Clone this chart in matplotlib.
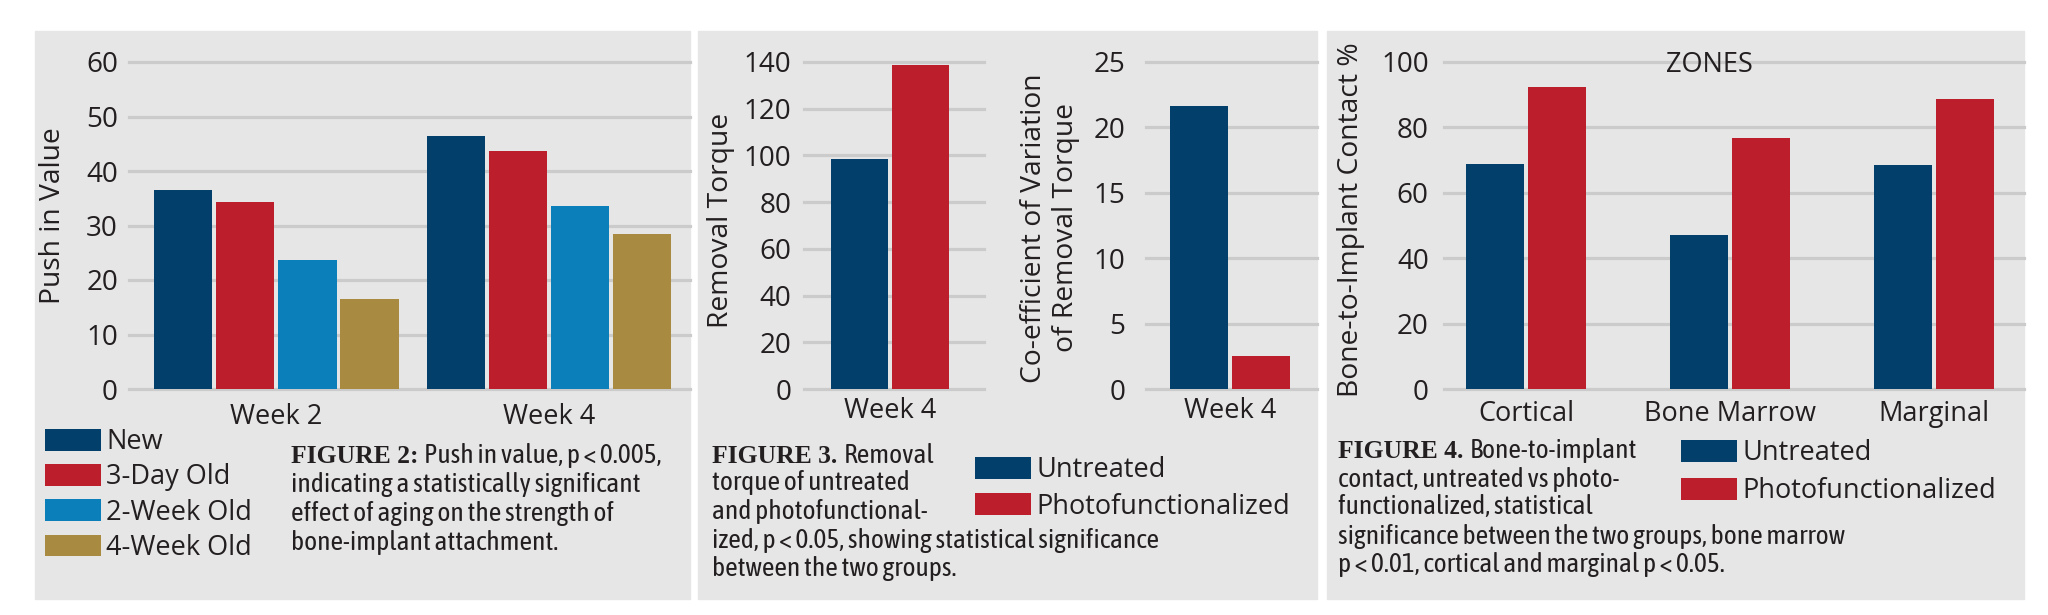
import matplotlib
matplotlib.use('Agg')
import matplotlib.pyplot as plt
from matplotlib import font_manager
from matplotlib.patches import Rectangle
import numpy as np

# ---- data ----
weeks = ['Week 2', 'Week 4']
age_groups = ['New', '3-Day Old', '2-Week Old', '4-Week Old']
push_new = [36.5, 46.4]
push_3day = [34.3, 43.7]
push_2week = [23.6, 33.5]
push_4week = [16.5, 28.4]

torque_week = ['Week 4']
torque_untreated = [98.5]
torque_photo = [138.8]
cov_untreated = [21.6]
cov_photo = [2.5]

zones = ['Cortical', 'Bone Marrow', 'Marginal']
bic_untreated = [68.8, 47.1, 68.4]
bic_photo = [92.3, 76.9, 88.8]

treat_labels = ['Untreated', 'Photofunctionalized']

# ---- style ----
NAVY = '#02406b'
RED = '#bd1e2c'
BLUE = '#0a7fba'
GOLD = '#a88a40'
BG = '#e6e6e6'
GRID = '#cbcbcb'
TXT = '#231f20'

names = {f.name for f in font_manager.fontManager.ttflist}


def pick(*fams):
    for f in fams:
        if f in names:
            return f
    return 'DejaVu Sans'


SANS = pick('Open Sans', 'Noto Sans')
CAPF = pick('Asap Condensed', 'Archivo Narrow', 'Barlow Semi Condensed', 'Liberation Sans')
HEADF = pick('Liberation Serif', 'DejaVu Serif')

plt.rcParams['font.family'] = [SANS, 'DejaVu Sans']
plt.rcParams['text.color'] = TXT

W, H = 2048, 615
fig = plt.figure(figsize=(W / 100, H / 100), dpi=100, facecolor='white')
renderer = fig.canvas.get_renderer()


def fit_size(text, family, target_px, weight='normal', base=20.0):
    t = fig.text(0, 0, text, family=family, fontsize=base, weight=weight)
    w = t.get_window_extent(renderer).width
    t.remove()
    return base * target_px / w


REG = fit_size('Photofunctionalized', SANS, 253)
YLS = fit_size('Bone-to-Implant Contact %', SANS, 355)
CAP = fit_size('indicating a statistically significant', CAPF, 348)
HEAD = min(fit_size('FIGURE 2:', HEADF, 127, weight='bold'), CAP * 1.05)


def box(l, t, r, b):
    return [l / W, 1 - b / H, (r - l) / W, (b - t) / H]


def panel(l, t, r, b):
    fig.add_artist(Rectangle((l / W, 1 - b / H), (r - l) / W, (b - t) / H,
                             transform=fig.transFigure, color=BG, zorder=-10))


def style(ax, ymax, step, pad, xpad):
    ax.set_facecolor('none')
    for s in ax.spines.values():
        s.set_visible(False)
    ax.set_ylim(0, ymax)
    ax.set_yticks(np.arange(0, ymax + 1, step))
    ax.grid(axis='y', color=GRID, lw=2.3)
    ax.set_axisbelow(True)
    ax.tick_params(axis='y', length=0, labelsize=REG * 1.03, pad=pad, colors=TXT)
    ax.tick_params(axis='x', length=0, labelsize=REG, pad=xpad, colors=TXT)
    for gl in ax.get_ygridlines():
        gl.set_clip_on(False)


def ylabel(ax, text, x, y):
    ax.set_ylabel(text, fontsize=YLS, va='center', ha='center', color=TXT)
    ax.yaxis.set_label_coords(x / W, 1 - y / H, transform=fig.transFigure)


def legend(handles, labels, x, y, spacing):
    fig.legend(handles=handles, labels=labels, loc='upper left',
               bbox_to_anchor=(x / W, 1 - y / H), frameon=False, fontsize=REG,
               handlelength=2.05, handleheight=0.86, handletextpad=0.2,
               labelspacing=spacing, borderpad=0, borderaxespad=0)


def caption(x, ys, head, lines):
    t = fig.text(x / W, 1 - ys[0] / H, head, family=HEADF, weight='bold',
                 fontsize=HEAD, va='baseline', ha='left', color=TXT)
    w = t.get_window_extent(renderer).width
    fig.text((x + w + 6) / W, 1 - ys[0] / H, lines[0], family=CAPF,
             fontsize=CAP, va='baseline', ha='left', color=TXT)
    for yy, s in zip(ys[1:], lines[1:]):
        fig.text(x / W, 1 - yy / H, s, family=CAPF, fontsize=CAP,
                 va='baseline', ha='left', color=TXT)


# ================= FIGURE 2 =================
panel(35, 31, 690, 599)
ax1 = fig.add_axes(box(129, 62, 690, 389))
style(ax1, 60, 10, 8, 10)
x = np.arange(len(weeks))
step, bw = 0.2275, 0.213
series = [push_new, push_3day, push_2week, push_4week]
colors = [NAVY, RED, BLUE, GOLD]
bars1 = []
for i, (vals, c, lab) in enumerate(zip(series, colors, age_groups)):
    bars1.append(ax1.bar(x + (i - 1.5) * step, vals, bw, color=c, label=lab))
ax1.set_xlim(-0.541, 1.517)
ax1.set_xticks(x)
ax1.set_xticklabels(weeks)
ylabel(ax1, 'Push in Value', 53, 216)

legend(bars1, age_groups, 45, 428, 0.27)

caption(291, [463, 492, 521, 550], 'FIGURE 2:',
        ['Push in value, p < 0.005,',
         'indicating a statistically significant',
         'effect of aging on the strength of',
         'bone-implant attachment.'])

# ================= FIGURE 3 =================
panel(698, 31, 1317, 599)
ax2 = fig.add_axes(box(804, 62, 984, 389))
style(ax2, 140, 20, 9, 6)
x = np.arange(len(torque_week))
b_u = ax2.bar(x - 0.17, torque_untreated, 0.317, color=NAVY)
b_p = ax2.bar(x + 0.17, torque_photo, 0.317, color=RED)
ax2.set_xlim(-0.478, 0.522)
ax2.set_xticks(x)
ax2.set_xticklabels(torque_week)
ylabel(ax2, 'Removal Torque', 721, 220)

ax3 = fig.add_axes(box(1146, 62, 1317, 389))
style(ax3, 25, 5, 15, 6)
ax3.bar(x - 0.182, cov_untreated, 0.341, color=NAVY)
ax3.bar(x + 0.182, cov_photo, 0.341, color=RED)
ax3.set_xlim(-0.491, 0.509)
ax3.set_xticks(x)
ax3.set_xticklabels(torque_week)
ylabel(ax3, 'Co-efficient of Variation\nof Removal Torque', 1050, 228)

legend([b_u, b_p], treat_labels, 975, 456, 0.32)

caption(712, [463, 490, 519, 548, 576], 'FIGURE 3.',
        ['Removal',
         'torque of untreated',
         'and photofunctional-',
         'ized, p < 0.05, showing statistical significance',
         'between the two groups.'])

# ================= FIGURE 4 =================
panel(1327, 31, 2024, 599)
ax4 = fig.add_axes(box(1444, 62, 2024, 389))
style(ax4, 100, 20, 11, 8)
x = np.arange(len(zones))
b_u = ax4.bar(x - 0.152, bic_untreated, 0.284, color=NAVY)
b_p = ax4.bar(x + 0.152, bic_photo, 0.284, color=RED)
ax4.set_xlim(-0.402, 2.439)
ax4.set_xticks(x)
ax4.set_xticklabels(zones)
ylabel(ax4, 'Bone-to-Implant Contact %', 1351, 220)
ax4.text(1709 / W, 1 - 65 / H, 'ZONES', transform=fig.transFigure,
         fontsize=REG, ha='center', va='center', color=TXT)

legend([b_u, b_p], treat_labels, 1681, 439, 0.38)

caption(1338, [458, 487, 514, 544, 572], 'FIGURE 4.',
        ['Bone-to-implant',
         'contact, untreated vs photo-',
         'functionalized, statistical',
         'significance between the two groups, bone marrow',
         'p < 0.01, cortical and marginal p < 0.05.'])

fig.savefig('out.png', dpi=100, facecolor='white')
